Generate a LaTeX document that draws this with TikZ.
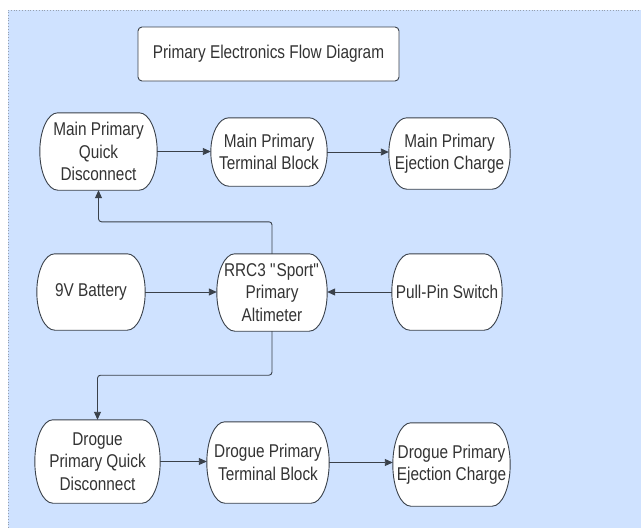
\documentclass[tikz,border=0pt]{standalone}
\usepackage{fontspec}
\setmainfont{Liberation Sans}[FakeStretch=0.83]
\usetikzlibrary{arrows.meta,calc,backgrounds}
\definecolor{bgblue}{RGB}{207,226,255}
\definecolor{linegray}{RGB}{58,65,74}
\definecolor{textgray}{RGB}{51,51,51}
\definecolor{dotgray}{RGB}{150,160,175}
\tikzset{
  stadium/.style={align=center, inner sep=0pt, text=textgray,
    font=\fontsize{18.5}{22.5}\selectfont},
  stadline/.style={draw=linegray, line width=0.9pt, fill=white},
  titlebox/.style={draw=linegray, line width=0.9pt, fill=white, rounded corners=4pt,
    align=center, inner sep=0pt, text=textgray,
    font=\fontsize{18.5}{22.5}\selectfont},
  conn/.style={draw=linegray, line width=0.9pt, -{Triangle[length=8pt,width=7pt]}},
}
\newcommand\stadshape[1]{%
  \path[stadline] let \p1=(#1.north), \p2=(#1.south), \n1={(\y1-\y2)/2} in
    ([xshift=18pt]#1.north west) -- ([xshift=-18pt]#1.north east)
    arc[start angle=90, end angle=-90, x radius=18pt, y radius=\n1]
    -- ([xshift=18pt]#1.south west)
    arc[start angle=270, end angle=90, x radius=18pt, y radius=\n1] -- cycle;}
\begin{document}
\begin{tikzpicture}[x=1pt,y=1pt]
\useasboundingbox (0,0) rectangle (641,-528);

\node[titlebox, minimum width=261pt, minimum height=54pt] (title) at (268.5,-54) {Primary Electronics Flow Diagram};

\node[stadium, minimum width=117pt, minimum height=77pt] (mqd) at (98.5,-151.5) {Main Primary\\Quick\\Disconnect};
\node[stadium, minimum width=116pt, minimum height=68pt] (mtb) at (269,-152) {Main Primary\\Terminal Block};
\node[stadium, minimum width=121pt, minimum height=71pt] (mej) at (449.5,-153.5) {Main Primary\\Ejection Charge};

\node[stadium, minimum width=108pt, minimum height=76pt] (bat) at (91,-292) {9V Battery};
\node[stadium, minimum width=110pt, minimum height=77pt] (alt) at (272,-292.5) {RRC3 \textquotedbl Sport\textquotedbl\\Primary\\Altimeter};
\node[stadium, minimum width=110pt, minimum height=76pt] (pin) at (447,-292) {Pull-Pin Switch};

\node[stadium, minimum width=125pt, minimum height=83pt] (dqd) at (97.5,-461.5) {Drogue\\Primary Quick\\Disconnect};
\node[stadium, minimum width=122pt, minimum height=81pt] (dtb) at (268,-462.5) {Drogue Primary\\Terminal Block};
\node[stadium, minimum width=117pt, minimum height=83pt] (dej) at (451.5,-464.5) {Drogue Primary\\Ejection Charge};

\begin{scope}[on background layer]
\fill[bgblue] (8,-10) rectangle (641,-528);
\draw[dotgray, dotted, line width=0.8pt] (8,-528) -- (8,-10) -- (641,-10);
\foreach \nm in {mqd,mtb,mej,bat,alt,pin,dqd,dtb,dej}{\stadshape{\nm}}
\end{scope}

\draw[conn] (mqd.east) -- (mqd.east -| mtb.west);
\draw[conn] (mtb.east) -- (mtb.east -| mej.west);
\draw[conn] (bat.east) -- (bat.east -| alt.west);
\draw[conn] (pin.west) -- (pin.west -| alt.east);
\draw[conn] (dqd.east) -- (dqd.east -| dtb.west);
\draw[conn] (dtb.east) -- (dtb.east -| dej.west);

\draw[conn, rounded corners=3pt] (alt.north) -- ++(0,32) -| (mqd.south);
\draw[conn, rounded corners=3pt] (alt.south) -- ++(0,-44) -| (dqd.north);
\end{tikzpicture}
\end{document}
